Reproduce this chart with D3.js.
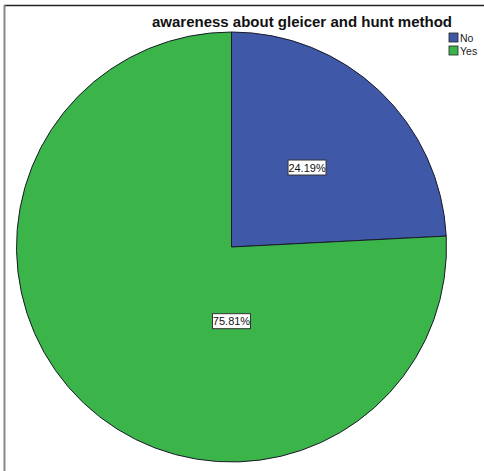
<!DOCTYPE html>
<html lang="en">
	<head>
		<meta charset="UTF-8" />
		<script src="https://cdnjs.cloudflare.com/ajax/libs/d3/7.8.5/d3.min.js"></script>
		<title>awareness about gleicer and hunt method</title>
		<style>
			body { margin: 0; background: #fff; }
			svg { display: block; font-family: Arial, 'Liberation Sans', sans-serif; }
		</style>
	</head>
	<body>
		<div class="chart"></div>

		<script>
			// data
			const categories = ['No', 'Yes']
			const percents = [24.19, 75.81]
			const colors = ['#3f59a8', '#3bb54a']
			const title = 'awareness about gleicer and hunt method'

			const width = 484
			const height = 471
			const cx = 231.5
			const cy = 247
			const radius = 215

			const svg = d3
				.select('.chart')
				.append('svg')
				.attr('width', width)
				.attr('height', height)

			// frame (top + left only, like the cropped SPSS output)
			svg.append('line')
				.attr('x1', 4).attr('x2', width).attr('y1', 5.5).attr('y2', 5.5)
				.attr('stroke', '#222').attr('stroke-width', 1.5)
			svg.append('line')
				.attr('x1', 4.5).attr('x2', 4.5).attr('y1', 5).attr('y2', height)
				.attr('stroke', '#888').attr('stroke-width', 2)

			// title
			svg.append('text')
				.attr('x', 302)
				.attr('y', 27)
				.attr('text-anchor', 'middle')
				.style('font-size', '15px')
				.style('font-weight', 'bold')
				.attr('fill', '#111')
				.text(title)

			const data = categories.map((c, i) => ({ cat: c, value: percents[i] }))

			const pie = d3.pie().value(d => d.value).sort(null)
			const arc = d3.arc().innerRadius(0).outerRadius(radius)

			const g = svg.append('g').attr('transform', `translate(${cx},${cy})`)
			const arcs = pie(data)

			g.selectAll('path')
				.data(arcs)
				.join('path')
				.attr('d', arc)
				.attr('fill', (d, i) => colors[i])
				.attr('stroke', '#1a1a2a')
				.attr('stroke-width', 1)

			// label positions: small slice at centroid, big slice below center (SPSS style)
			const labelArc = d3.arc().innerRadius(0).outerRadius(radius * 1.02)
			function labelPos(d) {
				if (d.endAngle - d.startAngle > Math.PI) {
					return [0, radius * 0.345]
				}
				return labelArc.centroid(d)
			}

			const labels = g.selectAll('g.lbl')
				.data(arcs)
				.join('g')
				.attr('class', 'lbl')
				.attr('transform', d => `translate(${labelPos(d)})`)

			labels.append('rect')
				.attr('x', -19)
				.attr('y', -7.5)
				.attr('width', 38)
				.attr('height', 15)
				.attr('fill', '#fff')
				.attr('stroke', '#333')
				.attr('stroke-width', 1)

			labels.append('text')
				.attr('text-anchor', 'middle')
				.attr('y', 4)
				.style('font-size', '11px')
				.attr('fill', '#111')
				.text(d => d.data.value.toFixed(2) + '%')

			// legend
			const legend = svg.append('g').attr('transform', 'translate(449,33)')
			const item = legend.selectAll('g')
				.data(categories)
				.join('g')
				.attr('transform', (d, i) => `translate(0,${i * 13})`)
			item.append('rect')
				.attr('width', 9)
				.attr('height', 9)
				.attr('fill', (d, i) => colors[i])
				.attr('stroke', '#222')
				.attr('stroke-width', 0.8)
			item.append('text')
				.attr('x', 11)
				.attr('y', 8.5)
				.style('font-size', '10.5px')
				.attr('fill', '#222')
				.text(d => d)
		</script>
	</body>
</html>
